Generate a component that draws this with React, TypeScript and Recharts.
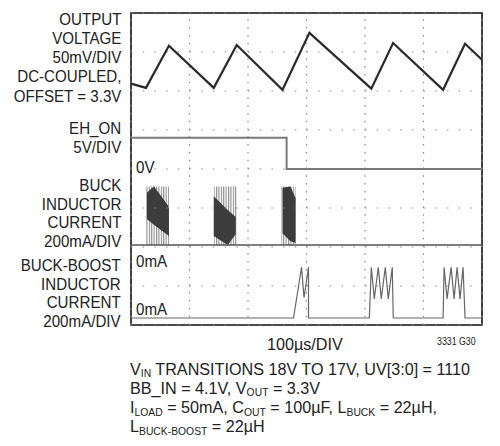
import React from 'react';
import { ComposedChart, Line, Area, XAxis, YAxis, ReferenceLine, ReferenceArea } from 'recharts';

// time in µs (100µs/DIV), vertical values in scope divisions (0..8)
const timeTicks = [0, 100, 200, 300, 400, 500, 600];
const divTicks = [0, 1, 2, 3, 4, 5, 6, 7, 8];

const outputVoltage = [
  { t: 0, v: 6.19 }, { t: 25.6, v: 6.08 }, { t: 64.8, v: 7.16 }, { t: 141.5, v: 6.08 },
  { t: 180.7, v: 7.18 }, { t: 259, v: 6.03 }, { t: 305, v: 7.49 }, { t: 410.8, v: 6.06 },
  { t: 448, v: 7.23 }, { t: 533.5, v: 6.03 }, { t: 571, v: 7.21 }, { t: 600, v: 6.8 },
];

const ehOn = [
  { t: 0, v: 4.8 }, { t: 266, v: 4.8 }, { t: 266, v: 4.0 }, { t: 600, v: 4.0 },
];

const buckBaseline = [{ t: 0, v: 2.05 }, { t: 600, v: 2.05 }];

const buckBurst1 = [{ t: 25.6, r: [2.05, 3.55] }, { t: 64.8, r: [2.05, 3.55] }];
const buckBurst2 = [{ t: 141.5, r: [2.05, 3.55] }, { t: 180.7, r: [2.05, 3.55] }];
const buckBurst3 = [{ t: 257, r: [2.05, 3.55] }, { t: 281.3, r: [2.05, 3.55] }];

const buckCore1 = [
  { t: 27.3, r: [2.71, 3.4] }, { t: 39.2, r: [2.57, 3.55] },
  { t: 63.1, r: [2.3, 3.07] }, { t: 64.8, r: [2.27, 2.96] },
];
const buckCore2 = [
  { t: 141.5, r: [2.28, 3.3] }, { t: 165.3, r: [2.05, 2.95] }, { t: 179, r: [2.33, 2.77] },
];
const buckCore3 = [
  { t: 259, r: [2.35, 3.52] }, { t: 272.7, r: [2.15, 3.55] }, { t: 281.3, r: [2.1, 3.25] },
];

const buckBoost = [
  { t: 0, v: 0.18 },
  { t: 277.8, v: 0.18 }, { t: 291.5, v: 1.48 }, { t: 295.8, v: 0.7 }, { t: 303.4, v: 1.48 },
  { t: 303.5, v: 0.18 }, { t: 306.8, v: 0.18 },
  { t: 407.4, v: 0.18 }, { t: 410.8, v: 1.48 }, { t: 415.9, v: 0.67 }, { t: 422.7, v: 1.48 },
  { t: 427.8, v: 0.67 }, { t: 434.7, v: 1.48 }, { t: 439.8, v: 0.67 }, { t: 446.6, v: 1.48 },
  { t: 448.3, v: 0.18 },
  { t: 533.5, v: 0.18 }, { t: 535.2, v: 1.48 }, { t: 540.3, v: 0.67 }, { t: 547.2, v: 1.48 },
  { t: 552.3, v: 0.67 }, { t: 557.4, v: 1.48 }, { t: 562.5, v: 0.67 }, { t: 567.6, v: 1.48 },
  { t: 571.0, v: 0.18 },
  { t: 600, v: 0.18 },
];

const FONT = '"Liberation Sans", Arial, sans-serif';

const textBase: React.CSSProperties = {
  position: 'absolute',
  fontFamily: FONT,
  fontSize: 17.2,
  lineHeight: '19.3px',
  color: '#222',
  whiteSpace: 'nowrap',
  transform: 'scaleX(0.88)',
  transformOrigin: 'left top',
};

const Sub = ({ children }: { children: React.ReactNode }) => (
  <span style={{ fontSize: 11, lineHeight: '8px', display: 'inline-block', position: 'relative', top: 2.5 }}>{children}</span>
);

const LeftBlock = ({ top, lines, lh }: { top: number; lines: string[]; lh?: number }) => (
  <div
    style={{
      ...textBase,
      top,
      right: 379,
      textAlign: 'right',
      lineHeight: `${lh ?? 19.3}px`,
      transformOrigin: 'right top',
    }}
  >
    {lines.map((l, i) => (
      <div key={i}>{l}</div>
    ))}
  </div>
);

export default function App() {
  return (
    <div style={{ position: 'absolute', left: 0, top: 0, width: 500, height: 446, background: '#fff' }}>
      <ComposedChart width={500} height={446} margin={{ top: 13, left: 130, right: 18, bottom: 120 }}>
        <defs>
          <pattern id="stripes" width="2.4" height="4" patternUnits="userSpaceOnUse">
            <rect x="0" y="0" width="1.1" height="4" fill="#8c8c8c" />
          </pattern>
        </defs>
        <XAxis type="number" dataKey="t" domain={[0, 600]} ticks={timeTicks} axisLine={false} tickLine={false} tick={false} height={1} />
        <YAxis type="number" domain={[0, 8]} ticks={divTicks} axisLine={false} tickLine={false} tick={false} width={1} />

        {divTicks.map((d) => (
          <ReferenceLine key={`h${d}`} y={d} stroke="#8a8a8a" strokeWidth={1.2} strokeDasharray="1.5 10.2" ifOverflow="extendDomain" />
        ))}
        {timeTicks.map((t) => (
          <ReferenceLine key={`v${t}`} x={t} stroke="#8a8a8a" strokeWidth={1.2} strokeDasharray="1.5 6.3" ifOverflow="extendDomain" />
        ))}

        <Line data={outputVoltage} dataKey="v" type="linear" stroke="#2a2a2a" strokeWidth={2.2} dot={false} isAnimationActive={false} />
        <Line data={ehOn} dataKey="v" type="linear" stroke="#7a7a7a" strokeWidth={2} dot={false} isAnimationActive={false} />

        <Area data={buckBurst1} dataKey="r" type="linear" stroke="none" fill="url(#stripes)" fillOpacity={1} isAnimationActive={false} />
        <Area data={buckBurst2} dataKey="r" type="linear" stroke="none" fill="url(#stripes)" fillOpacity={1} isAnimationActive={false} />
        <Area data={buckBurst3} dataKey="r" type="linear" stroke="none" fill="url(#stripes)" fillOpacity={1} isAnimationActive={false} />
        <Area data={buckCore1} dataKey="r" type="linear" stroke="none" fill="#3c3c3c" fillOpacity={1} isAnimationActive={false} />
        <Area data={buckCore2} dataKey="r" type="linear" stroke="none" fill="#3c3c3c" fillOpacity={1} isAnimationActive={false} />
        <Area data={buckCore3} dataKey="r" type="linear" stroke="none" fill="#3c3c3c" fillOpacity={1} isAnimationActive={false} />
        <Line data={buckBaseline} dataKey="v" type="linear" stroke="#555" strokeWidth={1.5} dot={false} isAnimationActive={false} />

        <Line data={buckBoost} dataKey="v" type="linear" stroke="#666" strokeWidth={1.2} dot={false} isAnimationActive={false} />

        <ReferenceArea x1={0} x2={600} y1={0} y2={8} fill="none" stroke="#111" strokeWidth={1.6} fillOpacity={0} />
      </ComposedChart>

      <LeftBlock top={9.6} lines={['OUTPUT', 'VOLTAGE', '50mV/DIV', 'DC-COUPLED,', 'OFFSET = 3.3V']} />
      <LeftBlock top={118.6} lines={['EH_ON', '5V/DIV']} />
      <LeftBlock top={176.3} lh={18.4} lines={['BUCK', 'INDUCTOR', 'CURRENT', '200mA/DIV']} />
      <LeftBlock top={256.3} lh={18.5} lines={['BUCK-BOOST', 'INDUCTOR', 'CURRENT', '200mA/DIV']} />

      <div style={{ ...textBase, left: 136, top: 157.6 }}>0V</div>
      <div style={{ ...textBase, left: 136, top: 251.6 }}>0mA</div>
      <div style={{ ...textBase, left: 136, top: 299.6 }}>0mA</div>

      <div style={{ ...textBase, left: 267, top: 334.6, transform: 'scaleX(0.94)' }}>100µs/DIV</div>
      <div style={{ ...textBase, left: 437, top: 336, fontSize: 10, lineHeight: '11px' }}>3331 G30</div>

      <div style={{ ...textBase, left: 130, top: 359.5, transform: 'scaleX(0.94)' }}>
        <div>V<Sub>IN</Sub> TRANSITIONS 18V TO 17V, UV[3:0] = 1110</div>
        <div>BB_IN = 4.1V, V<Sub>OUT</Sub> = 3.3V</div>
        <div>I<Sub>LOAD</Sub> = 50mA, C<Sub>OUT</Sub> = 100µF, L<Sub>BUCK</Sub> = 22µH,</div>
        <div>L<Sub>BUCK-BOOST</Sub> = 22µH</div>
      </div>
    </div>
  );
}
